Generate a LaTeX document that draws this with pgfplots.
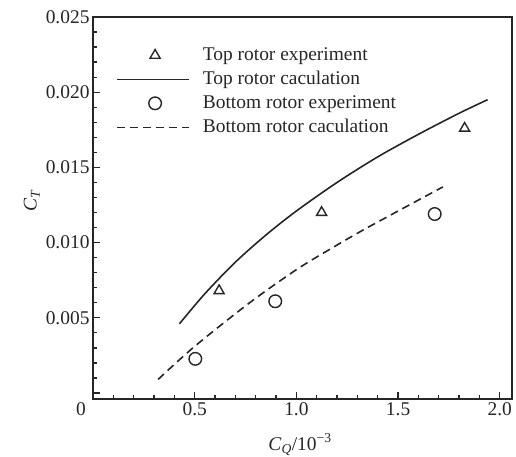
\documentclass[border=0pt]{standalone}
\usepackage{fontspec}
\setmainfont{Liberation Serif}
\usepackage{pgfplots}
\pgfplotsset{compat=1.18}
\definecolor{ink}{HTML}{262626}
\pgfplotsset{
  lineleg/.style={legend image code/.code={\draw[##1] (0bp,0bp) -- (72bp,0bp);}},
  markleg/.style={legend image code/.code={\draw[mark repeat=2,mark phase=2,##1] plot coordinates {(0bp,0bp) (38bp,0bp) (76bp,0bp)};}},
}
\begin{document}
\begin{tikzpicture}
\path[use as bounding box] (-93bp,-58bp) rectangle (423bp,399bp);
\begin{axis}[
  at={(0,0)}, anchor=south west,
  scale only axis, width=419bp, height=382bp,
  xmin=0, xmax=2.06, ymin=-0.0004, ymax=0.025,
  scaled x ticks=false, scaled y ticks=false,
  xtick={0.5,1.0,1.5,2.0}, xticklabels={0.5,1.0,1.5,2.0},
  extra x ticks={0}, extra x tick labels={0},
  extra x tick style={xticklabel style={xshift=-12bp}},
  minor xtick={0.1,0.2,0.3,0.4,0.6,0.7,0.8,0.9,1.1,1.2,1.3,1.4,1.6,1.7,1.8,1.9},
  ytick={0,0.005,0.010,0.015,0.020,0.025},
  yticklabels={,0.005,0.010,0.015,0.020,0.025},
  minor ytick={0.001,0.002,0.003,0.004,0.006,0.007,0.008,0.009,0.011,0.012,0.013,0.014,0.016,0.017,0.018,0.019,0.021,0.022,0.023,0.024},
  tick pos=left, tick align=inside,
  major tick length=7bp, minor tick length=4bp,
  axis line style={ink, line width=1.7bp},
  every tick/.style={ink, line width=1.3bp},
  tick label style={font=\fontsize{19.5}{23}\selectfont, text=ink},
  /pgf/number format/assume math mode=true,
  xlabel={\textit{C}\textsubscript{\textit{Q}}/10\textsuperscript{−3}},
  xlabel style={at={(axis description cs:0.494,-0.12)}, anchor=center, font=\fontsize{19.5}{23}\selectfont, text=ink},
  ylabel={\textit{C}\textsubscript{\textit{T}}},
  ylabel style={at={(axis description cs:-0.146,0.52)}, anchor=center, font=\fontsize{19.5}{23}\selectfont, text=ink},
  legend style={at={(axis description cs:0.048,0.929)}, anchor=north west, draw=none, fill=none,
    font=\fontsize{19.5}{23}\selectfont, text=ink,
    nodes={inner sep=0bp, text height=14bp, text depth=4bp},
    row sep=6bp,
    /tikz/every odd column/.append style={column sep=13bp}},
  legend cell align=left,
]
\addplot[only marks, mark=triangle, mark size=5.8bp, ink, line width=1.4bp, markleg]
  coordinates {(0.62,0.0068) (1.124,0.0120) (1.827,0.0176)};
\addlegendentry{Top rotor experiment}
\addplot[ink, line width=1.6bp, smooth, lineleg]
  coordinates {(0.425,0.0046) (0.55,0.0066) (0.70,0.0087) (0.85,0.0105) (1.0,0.0121) (1.2,0.0140) (1.4,0.0157) (1.6,0.0172) (1.8,0.0186) (1.94,0.0195)};
\addlegendentry{Top rotor caculation}
\addplot[only marks, mark=o, mark size=6.3bp, ink, line width=1.4bp, markleg]
  coordinates {(0.503,0.00227) (0.896,0.0061) (1.68,0.0119)};
\addlegendentry{Bottom rotor experiment}
\addplot[ink, line width=1.6bp, dash pattern=on 8bp off 5bp, smooth, lineleg]
  coordinates {(0.32,0.0009) (0.50,0.0031) (0.77,0.0060) (1.0,0.0082) (1.17,0.0096) (1.35,0.0110) (1.72,0.0137)};
\addlegendentry{Bottom rotor caculation}
\end{axis}
\end{tikzpicture}
\end{document}
